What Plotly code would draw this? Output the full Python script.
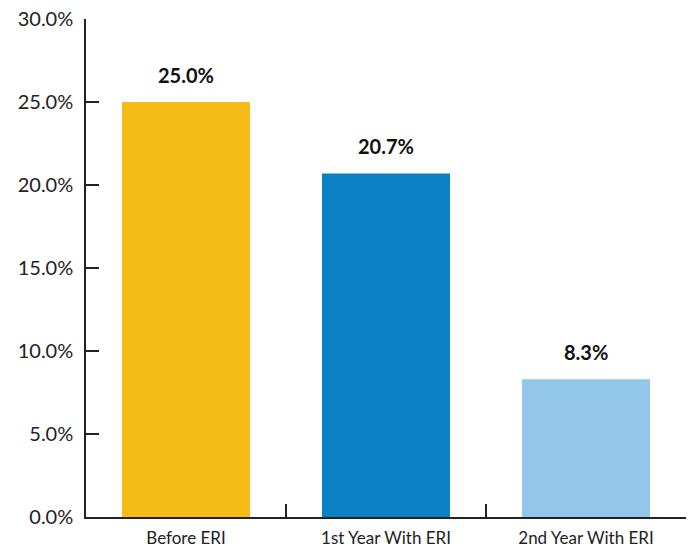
import plotly.graph_objects as go

categories = ["Before ERI", "1st Year With ERI", "2nd Year With ERI"]
values = [25.0, 20.7, 8.3]
colors = ["#F5BB16", "#0B80C5", "#92C7EA"]
tick_vals = [0, 5, 10, 15, 20, 25, 30]
tick_text = [f"{v:.1f}%" for v in tick_vals]

FONT = "Lato"

fig = go.Figure()
fig.add_trace(go.Bar(
    x=categories, y=values, marker_color=colors, marker_line_width=0,
    width=0.64, hoverinfo="skip",
))
for c, v in zip(categories, values):
    fig.add_annotation(x=c, y=v, text=f"<b>{v:.1f}%</b>", showarrow=False,
                       yanchor="bottom", yshift=13,
                       font=dict(family=FONT, size=20, color="#111"))

fig.update_layout(
    width=691, height=548,
    margin=dict(l=86, r=5, t=19, b=31, autoexpand=False),
    paper_bgcolor="white", plot_bgcolor="white",
    showlegend=False, bargap=0.36,
    font=dict(family=FONT, color="#222"),
)
fig.update_xaxes(
    showline=True, linecolor="#222", linewidth=1.5,
    ticks="inside", tickson="boundaries", ticklen=13, tickwidth=1.5, tickcolor="#222",
    tickfont=dict(family=FONT, size=17, color="#222"),
    showgrid=False, fixedrange=True, automargin=False,
    ticklabeloverflow="allow", ticklabelstandoff=5,
)
fig.update_yaxes(
    range=[0, 30], tickvals=tick_vals, ticktext=tick_text,
    showline=True, linecolor="#222", linewidth=1.5,
    ticks="inside", ticklen=13, tickwidth=1.5, tickcolor="#222",
    tickfont=dict(family=FONT, size=20, color="#222"),
    showgrid=False, zeroline=False, ticklabelstandoff=7, fixedrange=True,
    automargin=False, ticklabeloverflow="allow",
)
fig.write_html(
    "out.html",
    config={"displayModeBar": False},
    post_script="document.body.style.margin='0';document.body.style.overflow='hidden';",
)
